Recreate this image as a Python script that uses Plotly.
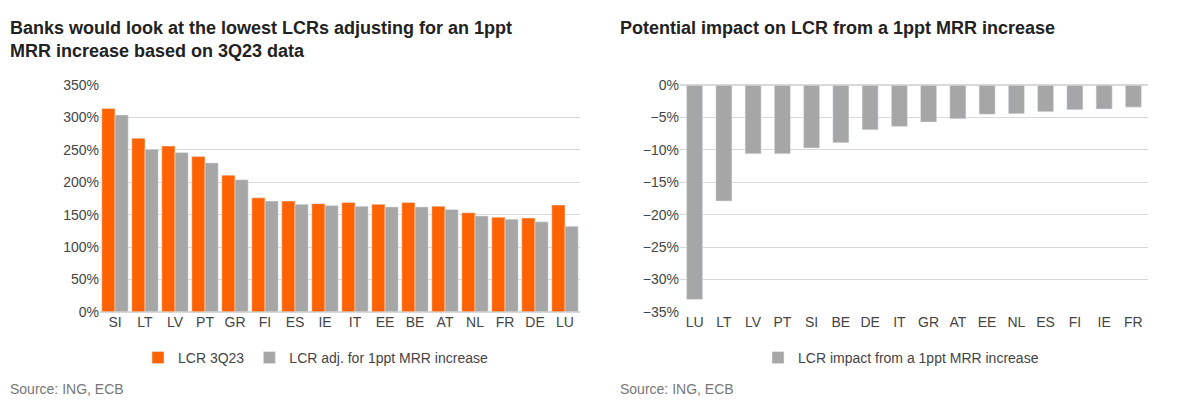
import plotly.graph_objects as go

left_cats = ["SI","LT","LV","PT","GR","FI","ES","IE","IT","EE","BE","AT","NL","FR","DE","LU"]
lcr_3q23 = [314,268,256,240,211,176,171,167,169,166,169,163,153,146,145,165]
lcr_adj = [304,251,246,230,204,171,166,164,163,162,162,158,148,143,139,132]

right_cats = ["LU","LT","LV","PT","SI","BE","DE","IT","GR","AT","EE","NL","ES","FI","IE","FR"]
lcr_impact = [-33.1,-17.9,-10.6,-10.6,-9.7,-8.9,-6.9,-6.4,-5.7,-5.2,-4.5,-4.4,-4.1,-3.8,-3.7,-3.4]

ORANGE = "#FF6200"
GREY = "#A6A6A6"
FONT = "Liberation Sans"

fig = go.Figure()
fig.add_bar(x=left_cats, y=lcr_3q23, name="LCR 3Q23", marker_color=ORANGE, xaxis="x", yaxis="y", legend="legend")
fig.add_bar(x=left_cats, y=lcr_adj, name="LCR adj. for 1ppt MRR increase", marker_color=GREY, xaxis="x", yaxis="y", legend="legend")
fig.add_bar(x=right_cats, y=lcr_impact, name="LCR impact from a 1ppt MRR increase", marker_color=GREY, xaxis="x2", yaxis="y2", legend="legend2", width=0.55)

ydom = [1-308/405, 1-72/405]
axfont = dict(family=FONT, size=14, color="#444")
fig.update_layout(
    width=1200, height=405, margin=dict(l=0, r=0, t=0, b=0),
    paper_bgcolor="white", plot_bgcolor="white",
    barmode="group", bargap=0.12, bargroupgap=0,
    font=dict(family=FONT, color="#444"),
    xaxis=dict(domain=[92/1200, 572/1200], anchor="y", tickfont=axfont, showline=False, ticks=""),
    yaxis=dict(domain=ydom, range=[0, 350], dtick=50, ticksuffix="%", tickfont=axfont,
               showgrid=True, gridcolor="#D9D9D9", zeroline=True, zerolinecolor="#D9D9D9"),
    xaxis2=dict(domain=[672/1200, 1140/1200], anchor="y2", side="bottom", tickfont=axfont, ticks=""),
    yaxis2=dict(domain=ydom, anchor="x2", range=[-35, 0], dtick=5, ticksuffix="%", tickfont=axfont,
                showgrid=True, gridcolor="#D9D9D9", zeroline=True, zerolinecolor="#D9D9D9"),
    legend=dict(orientation="h", x=130/1200, y=1-356/405, xanchor="left", yanchor="middle",
                font=dict(family=FONT, size=14, color="#444"), traceorder="normal"),
    legend2=dict(orientation="h", x=750/1200, y=1-356/405, xanchor="left", yanchor="middle",
                 font=dict(family=FONT, size=14, color="#444")),
    annotations=[
        dict(x=0, y=1, xref="paper", yref="paper", xanchor="left", yanchor="top", align="left", showarrow=False,
             text="<b>Banks would look at the lowest LCRs adjusting for an 1ppt<br>MRR increase based on 3Q23 data</b>",
             font=dict(family=FONT, size=18, color="#222")),
        dict(x=610/1200, y=1, xref="paper", yref="paper", xanchor="left", yanchor="top", align="left", showarrow=False,
             text="<b>Potential impact on LCR from a 1ppt MRR increase</b>",
             font=dict(family=FONT, size=18, color="#222")),
        dict(x=0, y=1-388/405, xref="paper", yref="paper", xanchor="left", yanchor="middle", showarrow=False,
             text="Source: ING, ECB", font=dict(family=FONT, size=14, color="#777")),
        dict(x=610/1200, y=1-388/405, xref="paper", yref="paper", xanchor="left", yanchor="middle", showarrow=False,
             text="Source: ING, ECB", font=dict(family=FONT, size=14, color="#777")),
    ],
)
fig.update_xaxes(showgrid=False)
fig.write_html("out.html")
